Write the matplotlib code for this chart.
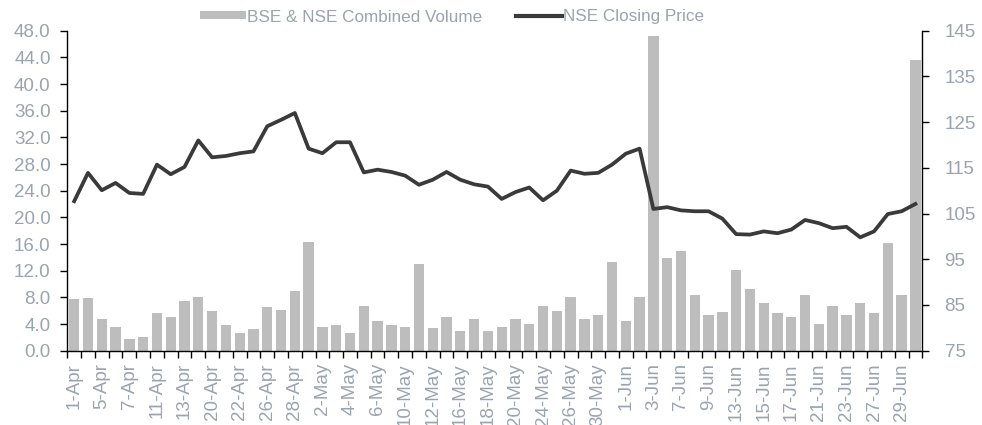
import matplotlib
matplotlib.use("Agg")
import matplotlib.pyplot as plt
import numpy as np
from matplotlib.patches import Patch
from matplotlib.lines import Line2D

plt.rcParams['font.family'] = ['Liberation Sans', 'DejaVu Sans']

dates = ["1-Apr", "4-Apr", "5-Apr", "6-Apr", "7-Apr", "8-Apr", "11-Apr", "12-Apr",
         "13-Apr", "15-Apr", "20-Apr", "21-Apr", "22-Apr", "25-Apr", "26-Apr", "27-Apr",
         "28-Apr", "29-Apr", "2-May", "3-May", "4-May", "5-May", "6-May", "9-May",
         "10-May", "11-May", "12-May", "13-May", "16-May", "17-May", "18-May", "19-May",
         "20-May", "23-May", "24-May", "25-May", "26-May", "27-May", "30-May", "31-May",
         "1-Jun", "2-Jun", "3-Jun", "6-Jun", "7-Jun", "8-Jun", "9-Jun", "10-Jun",
         "13-Jun", "14-Jun", "15-Jun", "16-Jun", "17-Jun", "20-Jun", "21-Jun", "22-Jun",
         "23-Jun", "24-Jun", "27-Jun", "28-Jun", "29-Jun", "30-Jun"]

volume = [7.7, 7.85, 4.75, 3.6, 1.8, 2.0, 5.6, 5.0, 7.45, 8.1, 5.9, 3.8, 2.7, 3.2, 6.5, 6.05,
          9.0, 16.35, 3.6, 3.8, 2.7, 6.7, 4.5, 3.8, 3.6, 13.0, 3.35, 5.1, 2.9, 4.7, 2.9, 3.6,
          4.7, 4.05, 6.7, 6.0, 8.05, 4.7, 5.4, 13.25, 4.5, 8.05, 47.2, 13.9, 15.0, 8.3, 5.4, 5.8,
          12.1, 9.2, 7.2, 5.6, 5.1, 8.3, 4.05, 6.7, 5.4, 7.2, 5.6, 16.1, 8.3, 43.6]

price = [107.7, 113.9, 110.1, 111.7, 109.5, 109.3, 115.7, 113.6, 115.2, 121.0, 117.3, 117.6,
         118.2, 118.6, 124.1, 125.5, 127.0, 119.2, 118.2, 120.6, 120.6, 114.0, 114.6, 114.1,
         113.3, 111.3, 112.4, 114.1, 112.4, 111.4, 110.9, 108.2, 109.7, 110.7, 107.9, 110.0,
         114.4, 113.7, 113.9, 115.7, 118.1, 119.2, 106.0, 106.4, 105.7, 105.5, 105.5, 103.9,
         100.5, 100.4, 101.1, 100.7, 101.5, 103.6, 102.9, 101.8, 102.1, 99.8, 101.1, 104.9,
         105.5, 107.1]

left_ticks = np.arange(0, 48.1, 4)
right_ticks = np.arange(75, 146, 10)

label_color = '#9aa3b0'
bar_color = '#bdbdbd'
line_color = '#3a3a3a'

fig = plt.figure(figsize=(9.82, 4.25), dpi=100)
ax = fig.add_axes([67.3/982, (425-350.7)/425, (922.3-67.3)/982, 320/425])
x = np.arange(len(dates))
ax.bar(x, volume, width=0.75, color=bar_color, zorder=2)
ax.set_xlim(-0.5, len(dates) - 0.5)
ax.set_ylim(0, 48)
ax.set_yticks(left_ticks)
ax.set_yticklabels([f"{v:.1f}" for v in left_ticks])

# tick marks at category boundaries, labels at every other category
ax.set_xticks(np.arange(-0.5, len(dates), 1.0))
ax.set_xticklabels([])
ax.set_xticks(x[::2], minor=True)
ax.set_xticklabels([dates[i] for i in x[::2]], minor=True, rotation=90)
ax.tick_params(axis='x', which='major', length=5, width=1, direction='out')
ax.tick_params(axis='x', which='minor', length=0, pad=9, labelsize=13.5, labelcolor=label_color)
ax.tick_params(axis='y', length=5, width=1, direction='out', pad=7, labelsize=13.5,
               labelcolor=label_color)
for s in ['top', 'right']:
    ax.spines[s].set_visible(False)
for s in ['left', 'bottom']:
    ax.spines[s].set_color('black')
    ax.spines[s].set_linewidth(1)

ax2 = ax.twinx()
ax2.plot(x, price, color=line_color, lw=2.7, solid_joinstyle='round', zorder=3)
ax2.set_ylim(75, 145)
ax2.set_yticks(right_ticks)
ax2.set_yticklabels([f"{v:.0f}" for v in right_ticks])
ax2.tick_params(axis='y', length=5, width=1, direction='out', pad=11, labelsize=13.5,
                labelcolor=label_color)
for s in ['top', 'left', 'bottom']:
    ax2.spines[s].set_visible(False)
ax2.spines['right'].set_color('black')
ax2.spines['right'].set_linewidth(1)

handles = [Patch(facecolor=bar_color, edgecolor='none'),
           Line2D([0], [0], color=line_color, lw=3)]
leg = fig.legend(handles, ["BSE & NSE Combined Volume", "NSE Closing Price"],
                 loc='center', bbox_to_anchor=(452/982, 1 - 17/425), ncol=2, frameon=False,
                 fontsize=12.3, handlelength=2.7, handleheight=0.35, handletextpad=0.05,
                 columnspacing=2.0)
for t in leg.get_texts():
    t.set_color(label_color)

fig.savefig("out.png", dpi=100)
